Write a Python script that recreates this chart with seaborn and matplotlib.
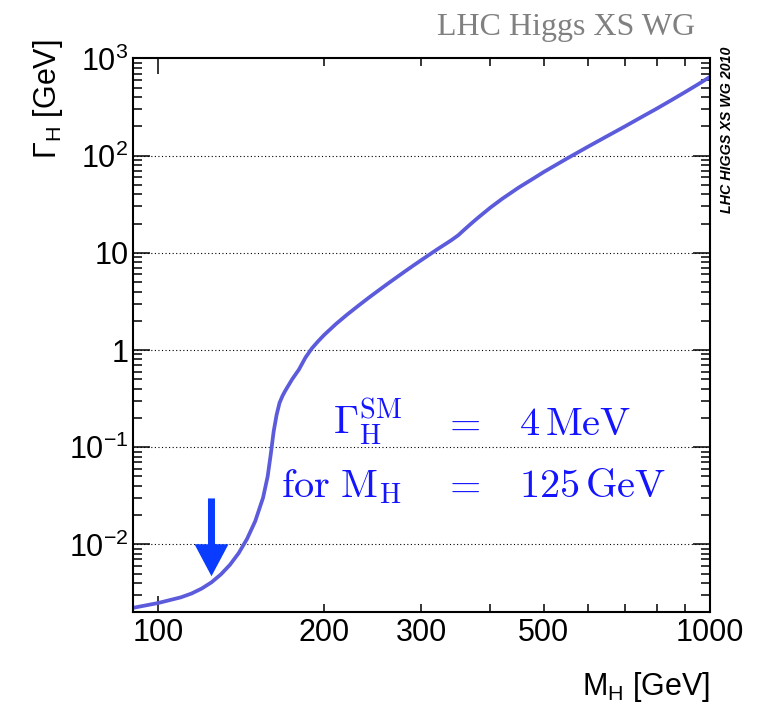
import numpy as np
import pandas as pd
import matplotlib
matplotlib.use("Agg")
import matplotlib.pyplot as plt
import matplotlib.ticker as mticker
import seaborn as sns

# ---- data: SM Higgs total width vs mass ----
mass = [90, 100, 110, 115, 120, 125, 130, 135, 140, 145, 150, 155, 158, 160,
        162, 164, 166, 168, 170, 175, 180, 185, 190, 195, 200, 210, 220, 230,
        240, 250, 260, 270, 280, 290, 300, 320, 340, 350, 360, 370, 380, 400,
        420, 450, 480, 500, 550, 600, 650, 700, 750, 800, 850, 900, 950, 1000]
width = [2.22e-3, 2.49e-3, 2.85e-3, 3.12e-3, 3.51e-3, 4.07e-3, 4.91e-3, 6.16e-3,
         8.12e-3, 1.14e-2, 1.73e-2, 3.02e-2, 5.0e-2, 8.31e-2,
         0.145, 0.215, 0.285, 0.335, 0.38, 0.50, 0.629, 0.837, 1.04, 1.23, 1.43,
         1.85, 2.31, 2.82, 3.40, 4.04, 4.76, 5.55, 6.43, 7.39, 8.43, 10.8, 13.5,
         15.2, 17.6, 20.2, 23.0, 29.2, 35.9, 46.9, 58.8, 68.0, 93.1, 123, 158,
         199, 248, 304, 371, 449, 540, 647]

x_major = [100, 1000]
x_label_ticks = [100, 200, 300, 500, 1000]
y_major = [1e-2, 1e-1, 1, 10, 1e2, 1e3]
y_tick_labels = [r"$\mathregular{10^{-2}}$", r"$\mathregular{10^{-1}}$", "1", "10",
                 r"$\mathregular{10^{2}}$", r"$\mathregular{10^{3}}$"]

arrow_mass = 125
arrow_top = 0.0297
arrow_tip = 0.0047

df = pd.DataFrame({"mass": mass, "width": width})

sns.set_style("ticks")
plt.rcParams["font.family"] = ["Liberation Sans", "DejaVu Sans"]
plt.rcParams["mathtext.fontset"] = "custom"
plt.rcParams["mathtext.rm"] = "Liberation Sans"
plt.rcParams["mathtext.it"] = "Liberation Sans:italic"
plt.rcParams["mathtext.bf"] = "Liberation Sans:bold"
for k in ["text.color", "axes.labelcolor", "xtick.color", "ytick.color", "axes.edgecolor"]:
    plt.rcParams[k] = "black"

fig = plt.figure(figsize=(7.69, 7.09), dpi=100)
ax = fig.add_axes([0.1726, 0.1364, 0.7507, 0.7811])

ax.set_xscale("log")
ax.set_yscale("log")

sns.lineplot(data=df, x="mass", y="width", ax=ax, color="#5b5bdc", lw=2.7,
             legend=False)

ax.set_xlim(90, 1000)
ax.set_ylim(2.0e-3, 1e3)

# gridlines (horizontal only)
for yv in y_major[:-1]:
    ax.axhline(yv, color="black", lw=0.8, ls=(0, (1, 2.2)), zorder=0.5)

# x ticks
ax.xaxis.set_major_locator(mticker.FixedLocator(x_major))
ax.xaxis.set_major_formatter(mticker.FixedFormatter([str(v) for v in x_major]))
ax.xaxis.set_minor_locator(mticker.FixedLocator([90, 200, 300, 400, 500, 600, 700, 800, 900]))
ax.xaxis.set_minor_formatter(mticker.FuncFormatter(
    lambda v, p: f"{v:.0f}" if int(round(v)) in x_label_ticks else ""))

# y ticks
ax.yaxis.set_major_locator(mticker.FixedLocator(y_major))
ax.yaxis.set_major_formatter(mticker.FixedFormatter(y_tick_labels))
ax.yaxis.set_minor_locator(mticker.LogLocator(base=10, subs=np.arange(2, 10), numticks=30))
ax.yaxis.set_minor_formatter(mticker.NullFormatter())

ax.tick_params(which="both", direction="in", top=True, right=True,
               labelsize=22, width=1.1, color="black", labelcolor="black")
ax.tick_params(axis="x", which="major", length=11.5, pad=4)
ax.tick_params(axis="x", which="minor", length=5.8, pad=4)
ax.tick_params(axis="y", which="major", length=12, pad=3)
ax.tick_params(axis="y", which="minor", length=6.5)

for sp in ax.spines.values():
    sp.set_linewidth(1.5)
    sp.set_color("black")

ax.set_xlabel(r"M$_\mathregular{H}$ [GeV]", fontsize=22, ha="right", va="top",
              color="black")
ax.xaxis.set_label_coords(1.0, -0.105)
ax.set_ylabel(r"Γ$_\mathregular{H}$ [GeV]", fontsize=22, ha="right", va="center",
              color="black")
ax.yaxis.set_label_coords(-0.147, 1.034)

# arrow
ax.annotate("", xy=(arrow_mass, arrow_tip), xytext=(arrow_mass, arrow_top),
            arrowprops=dict(arrowstyle="simple,head_length=0.48,head_width=0.51,tail_width=0.105",
                            mutation_scale=48, color="#0a3cff", shrinkA=0, shrinkB=0, lw=0))

# annotation text (LaTeX-like)
tc = "#1414ff"
fs = 29
def ftxt(x, y, s, ha):
    fig.text(x / 769, 1 - y / 709, s, ha=ha, va="baseline", fontsize=fs,
             color=tc, math_fontfamily="cm")

ftxt(402, 435, r"$\Gamma_{\mathrm{H}}^{\mathrm{SM}}$", "right")
ftxt(461, 435, r"$=$", "center")
ftxt(519, 435, r"$4\,\mathrm{MeV}$", "left")
ftxt(402, 497, r"$\mathrm{for}\ \mathrm{M}_{\mathrm{H}}$", "right")
ftxt(461, 497, r"$=$", "center")
ftxt(519, 497, r"$125\,\mathrm{GeV}$", "left")

# header texts
fig.text(695 / 769, 1 - 35 / 709, "LHC Higgs XS WG", ha="right", va="baseline",
         fontsize=23, color="#808080", family=["Liberation Serif", "DejaVu Serif"])
fig.text(727 / 769, 1 - 47 / 709, "LHC HIGGS XS WG 2010", rotation=90,
         ha="center", va="top", fontsize=10.3, fontweight="bold", fontstyle="italic",
         color="black")

fig.savefig("out.png", dpi=100)
